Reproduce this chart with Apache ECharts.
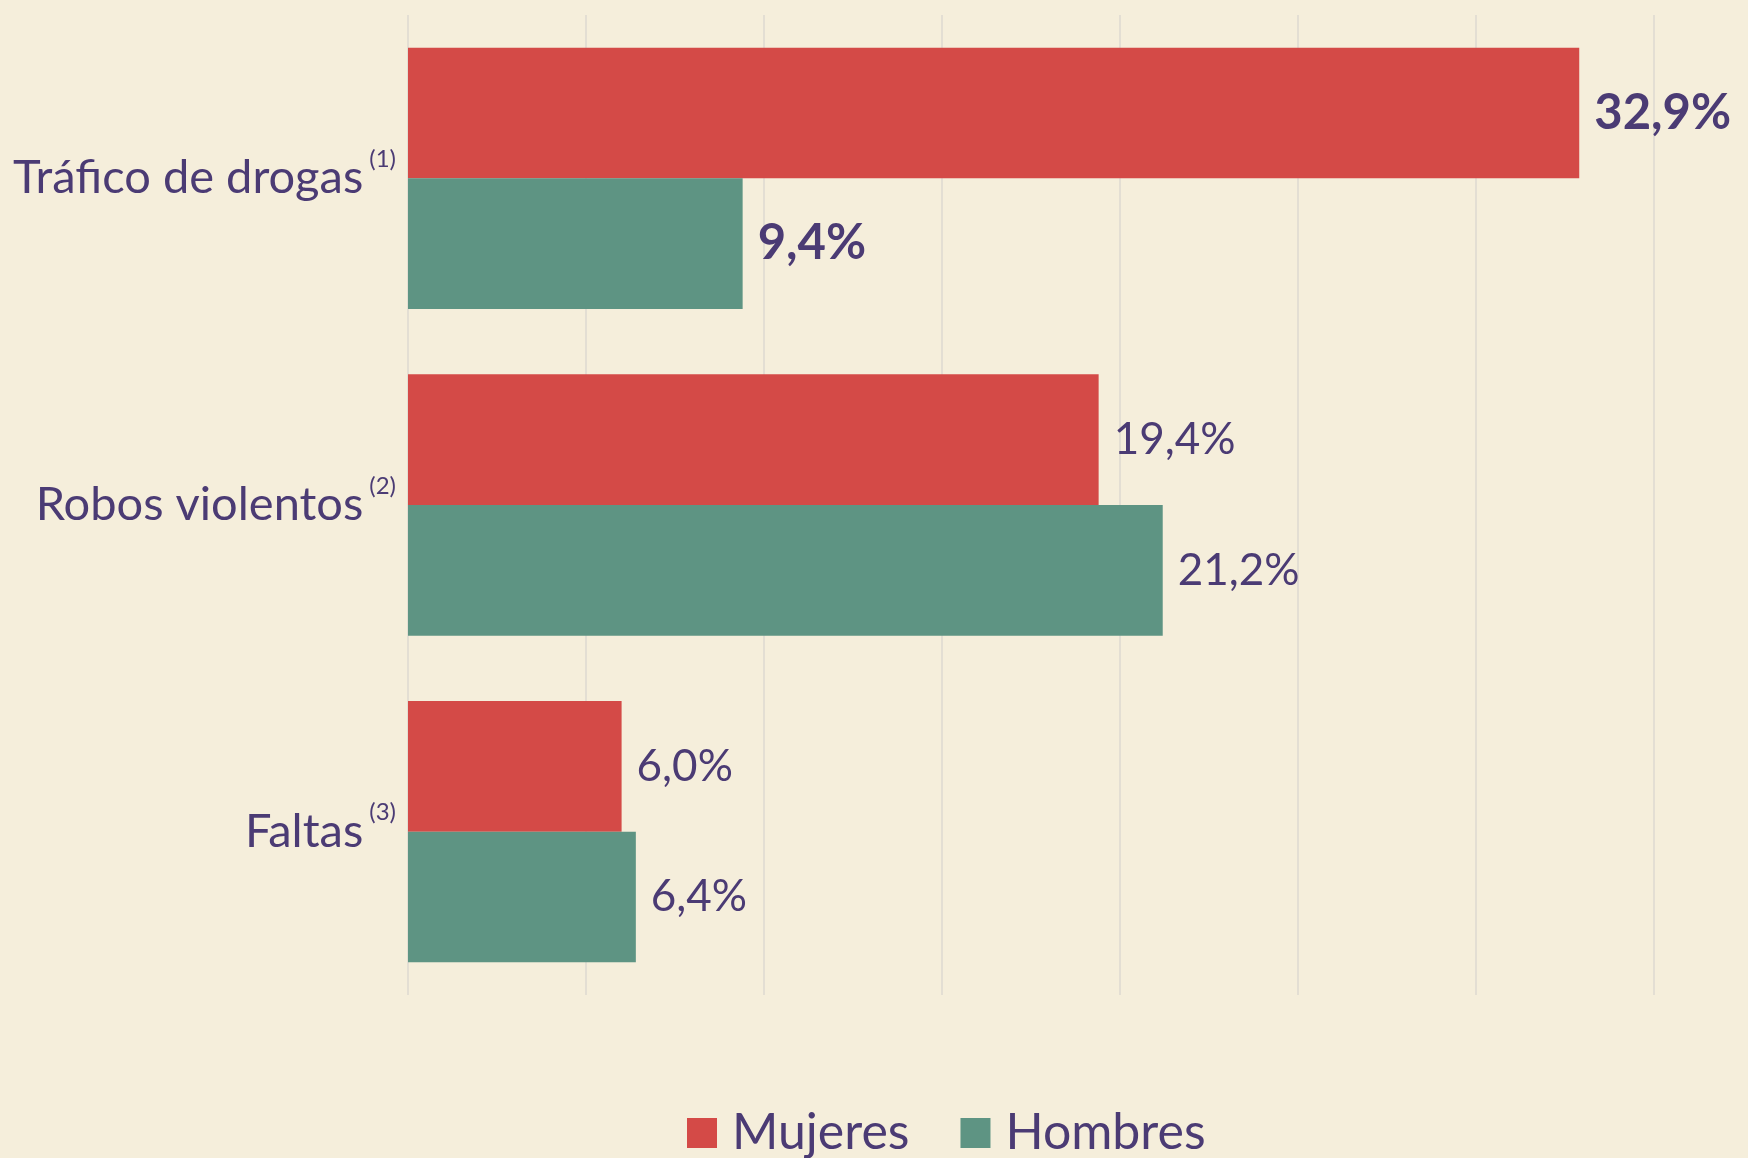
<!DOCTYPE html>
<html>
<head>
<meta charset="utf-8">
<script src="https://cdn.jsdelivr.net/npm/echarts@6/dist/echarts.min.js"></script>
<style>
  html, body { margin: 0; padding: 0; background: #f5eedb; }
  #main { width: 1748px; height: 1158px; }
</style>
</head>
<body>
<div id="main"></div>
<script>
// datos
const categorias = ['Tráfico de drogas', 'Robos violentos', 'Faltas'];
const notas = ['(1)', '(2)', '(3)'];
const mujeres = [32.9, 19.4, 6.0];
const hombres = [9.4, 21.2, 6.4];
const destacar = [true, false, false];

const colorTexto = '#4b3b74';
const fuente = 'Lato';

function fmt(v) {
  return v.toFixed(1).replace('.', ',') + '%';
}

function armarSerie(valores) {
  return valores.map(function (v, i) {
    return {
      value: v,
      label: destacar[i] ? { fontWeight: 'bold', fontSize: 49 } : { fontWeight: 'normal' }
    };
  });
}

var chartDom = document.getElementById('main');
var myChart = echarts.init(chartDom);
var option;

option = {
  backgroundColor: '#f5eedb',
  animation: false,
  textStyle: { fontFamily: fuente, color: colorTexto },
  grid: { left: 408, right: 94, top: 15, bottom: 163, containLabel: false },
  legend: {
    left: 682,
    top: 1103,
    icon: 'rect',
    itemWidth: 30,
    itemHeight: 30,
    itemGap: 51,
    textStyle: { fontSize: 50, color: colorTexto, fontFamily: fuente, padding: [0, 0, 0, 10] },
    data: ['Mujeres', 'Hombres']
  },
  xAxis: {
    type: 'value',
    min: 0,
    max: 35,
    interval: 5,
    axisLabel: { show: false },
    axisLine: { show: false },
    axisTick: { show: false },
    splitLine: { show: true, lineStyle: { color: '#dcd9d1', width: 1.5 } }
  },
  yAxis: {
    type: 'category',
    inverse: true,
    data: categorias,
    axisLine: { show: false },
    axisTick: { show: false },
    axisLabel: {
      margin: 12,
      formatter: function (val, idx) {
        return '{a|' + val + '}{s|' + notas[idx] + '}';
      },
      rich: {
        a: { fontSize: 47, lineHeight: 62, color: colorTexto, fontFamily: fuente },
        s: { fontSize: 24, lineHeight: 24, verticalAlign: 'top', color: colorTexto, fontFamily: fuente, padding: [0, 0, 0, 6] }
      }
    }
  },
  series: [
    {
      name: 'Mujeres',
      type: 'bar',
      data: armarSerie(mujeres),
      itemStyle: { color: '#d44a47' },
      barGap: '0%',
      barCategoryGap: '20%',
      label: {
        show: true,
        position: 'right',
        distance: 15,
        fontSize: 44,
        color: colorTexto,
        fontFamily: fuente,
        formatter: function (p) { return fmt(p.value); }
      }
    },
    {
      name: 'Hombres',
      type: 'bar',
      data: armarSerie(hombres),
      itemStyle: { color: '#5e9483' },
      barGap: '0%',
      barCategoryGap: '20%',
      label: {
        show: true,
        position: 'right',
        distance: 15,
        fontSize: 44,
        color: colorTexto,
        fontFamily: fuente,
        formatter: function (p) { return fmt(p.value); }
      }
    }
  ]
};

option && myChart.setOption(option);
</script>
</body>
</html>
